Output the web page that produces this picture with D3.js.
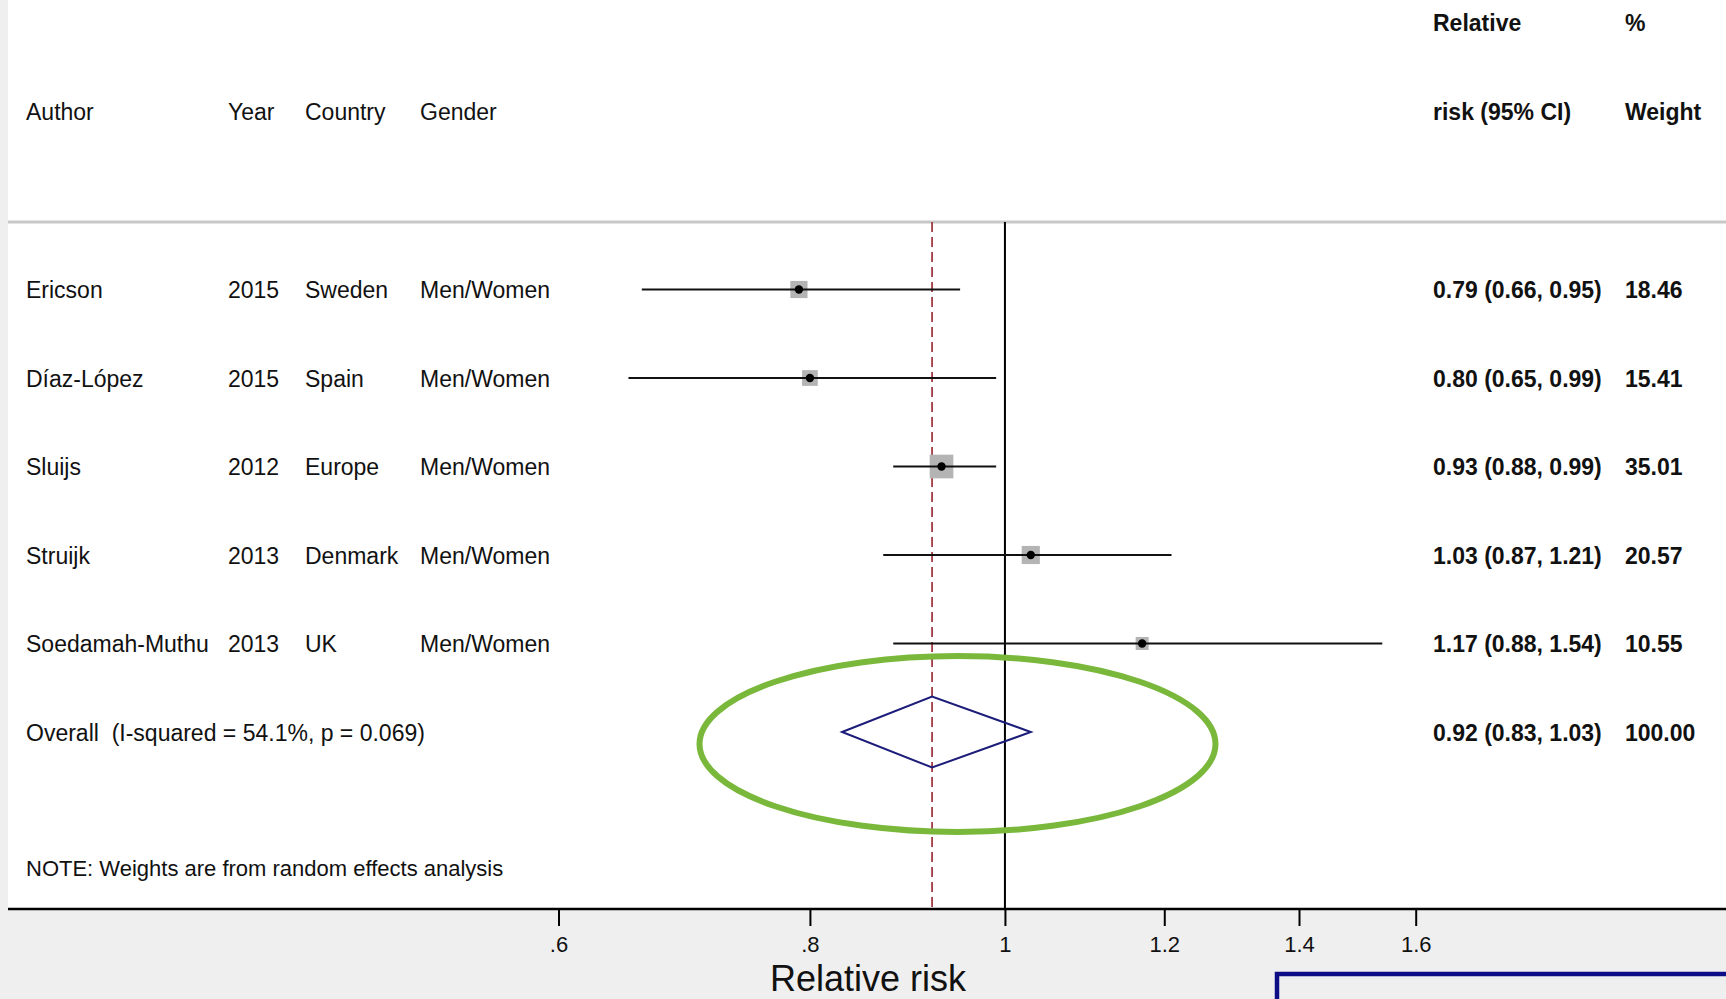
<!DOCTYPE html>
<html>
<head>
<meta charset="utf-8">
<script src="https://cdn.jsdelivr.net/npm/d3@7"></script>
<style>
  html, body { margin: 0; padding: 0; background: #efefef; }
  svg { display: block; }
  text { font-family: "Liberation Sans", Arial, sans-serif; fill: #111; white-space: pre; }
</style>
</head>
<body>
<svg id="chart" width="1726" height="999"></svg>
<script>
// Studies in the meta-analysis
const authors   = ["Ericson", "Díaz-López", "Sluijs", "Struijk", "Soedamah-Muthu"];
const years     = ["2015", "2015", "2012", "2013", "2013"];
const countries = ["Sweden", "Spain", "Europe", "Denmark", "UK"];
const genders   = ["Men/Women", "Men/Women", "Men/Women", "Men/Women", "Men/Women"];
const rrEst     = [0.79, 0.80, 0.93, 1.03, 1.17];
const rrLow     = [0.66, 0.65, 0.88, 0.87, 0.88];
const rrHigh    = [0.95, 0.99, 0.99, 1.21, 1.54];
const weights   = [18.46, 15.41, 35.01, 20.57, 10.55];

// Pooled (random effects) estimate
const overallEst    = 0.92;
const overallLow    = 0.83;
const overallHigh   = 1.03;
const overallWeight = 100.00;
const overallLabel  = "Overall  (I-squared = 54.1%, p = 0.069)";
const noteText      = "NOTE: Weights are from random effects analysis";

// Axis
const xTickValues = [0.6, 0.8, 1, 1.2, 1.4, 1.6];
const xTickLabels = [".6", ".8", "1", "1.2", "1.4", "1.6"];
const xTitle      = "Relative risk";

const svg = d3.select("#chart");
const W = 1726, H = 999;

const plotTop = 222, axisY = 909, leftEdge = 8;

// Panels: white plotting region above the axis, grey margin below
svg.append("rect").attr("x", 0).attr("y", 0).attr("width", W).attr("height", H).attr("fill", "#efefef");
svg.append("rect").attr("x", leftEdge).attr("y", 0).attr("width", W - leftEdge).attr("height", axisY).attr("fill", "#ffffff");

const x = d3.scaleLog().domain([0.6, 1.6]).range([558.5, 1415.7]);

const rowKeys = d3.range(authors.length + 1);
const y = d3.scalePoint().domain(rowKeys).range([289.5, 732]);

const wSize = d3.scaleSqrt().domain([0, 100]).range([0, 40]);

const fmt2 = d3.format(".2f");

// Header separator
svg.append("line")
  .attr("x1", leftEdge).attr("x2", W)
  .attr("y1", plotTop).attr("y2", plotTop)
  .attr("stroke", "#c8c8c8").attr("stroke-width", 3);

// Column headers
const fs = 23;
const colX = { author: 26, year: 228, country: 305, gender: 420, rr: 1433, w: 1625 };
const headerY = 120;
[["Author", colX.author], ["Year", colX.year], ["Country", colX.country], ["Gender", colX.gender]]
  .forEach(([t, cx]) => {
    svg.append("text").attr("x", cx).attr("y", headerY).attr("font-size", fs).text(t);
  });
svg.append("text").attr("x", colX.rr).attr("y", 31).attr("font-size", fs).attr("font-weight", 700).text("Relative");
svg.append("text").attr("x", colX.rr).attr("y", headerY).attr("font-size", fs).attr("font-weight", 700).text("risk (95% CI)");
svg.append("text").attr("x", colX.w).attr("y", 31).attr("font-size", fs).attr("font-weight", 700).text("%");
svg.append("text").attr("x", colX.w).attr("y", headerY).attr("font-size", fs).attr("font-weight", 700).text("Weight");

// Reference line at no effect and dashed line at the pooled estimate
svg.append("line")
  .attr("x1", x(1)).attr("x2", x(1))
  .attr("y1", plotTop).attr("y2", axisY)
  .attr("stroke", "#000").attr("stroke-width", 2);
svg.append("line")
  .attr("x1", x(overallEst)).attr("x2", x(overallEst))
  .attr("y1", plotTop).attr("y2", axisY)
  .attr("stroke", "#9c2f3a").attr("stroke-width", 1.7)
  .attr("stroke-dasharray", "10,5");

// Study rows
const studies = authors.map((a, i) => ({
  i, author: a, year: years[i], country: countries[i], gender: genders[i],
  est: rrEst[i], lo: rrLow[i], hi: rrHigh[i], w: weights[i]
}));

const rows = svg.append("g").selectAll("g").data(studies).join("g");

rows.append("rect")
  .attr("x", d => x(d.est) - wSize(d.w) / 2)
  .attr("y", d => y(d.i) - wSize(d.w) / 2)
  .attr("width", d => wSize(d.w))
  .attr("height", d => wSize(d.w))
  .attr("fill", "#b4b4b4");

rows.append("line")
  .attr("x1", d => x(d.lo)).attr("x2", d => x(d.hi))
  .attr("y1", d => y(d.i)).attr("y2", d => y(d.i))
  .attr("stroke", "#111").attr("stroke-width", 2.2);

rows.append("circle")
  .attr("cx", d => x(d.est)).attr("cy", d => y(d.i))
  .attr("r", 4.2).attr("fill", "#000");

const textRow = (sel, key, cx, weight) =>
  sel.append("text")
    .attr("x", cx).attr("y", d => y(d.i) + 8.5)
    .attr("font-size", fs)
    .attr("font-weight", weight)
    .text(key);

textRow(rows, d => d.author, colX.author, 400);
textRow(rows, d => d.year, colX.year, 400);
textRow(rows, d => d.country, colX.country, 400);
textRow(rows, d => d.gender, colX.gender, 400);
textRow(rows, d => `${fmt2(d.est)} (${fmt2(d.lo)}, ${fmt2(d.hi)})`, colX.rr, 700);
textRow(rows, d => fmt2(d.w), colX.w, 700);

// Pooled estimate diamond
const oy = y(authors.length);
const halfH = 35.5;
svg.append("path")
  .attr("d", d3.line()([
    [x(overallLow), oy], [x(overallEst), oy - halfH],
    [x(overallHigh), oy], [x(overallEst), oy + halfH]
  ]) + "Z")
  .attr("fill", "none").attr("stroke", "#1c1c7a").attr("stroke-width", 2);

svg.append("text").attr("x", colX.author).attr("y", oy + 8.5).attr("font-size", fs).text(overallLabel);
svg.append("text").attr("x", colX.rr).attr("y", oy + 8.5).attr("font-size", fs).attr("font-weight", 700)
  .text(`${fmt2(overallEst)} (${fmt2(overallLow)}, ${fmt2(overallHigh)})`);
svg.append("text").attr("x", colX.w).attr("y", oy + 8.5).attr("font-size", fs).attr("font-weight", 700)
  .text(fmt2(overallWeight));

// Note
svg.append("text").attr("x", colX.author).attr("y", 876).attr("font-size", fs - 1).text(noteText);

// X axis
const axis = d3.axisBottom(x)
  .tickValues(xTickValues)
  .tickFormat((d, i) => xTickLabels[i])
  .tickSize(17)
  .tickPadding(10);

const gAxis = svg.append("g").attr("transform", `translate(0,${axisY})`).call(axis);
gAxis.select(".domain").remove();
gAxis.selectAll(".tick line").attr("stroke", "#000").attr("stroke-width", 2);
gAxis.selectAll(".tick text")
  .attr("font-size", 22).attr("fill", "#111")
  .attr("font-family", "Liberation Sans, Arial, sans-serif");

svg.append("line")
  .attr("x1", leftEdge).attr("x2", W)
  .attr("y1", axisY).attr("y2", axisY)
  .attr("stroke", "#000").attr("stroke-width", 2.5);

svg.append("text")
  .attr("x", 868).attr("y", 991)
  .attr("text-anchor", "middle")
  .attr("font-size", 36)
  .text(xTitle);

// Highlight around the pooled estimate
svg.append("ellipse")
  .attr("cx", 957.5).attr("cy", 744)
  .attr("rx", 258).attr("ry", 88)
  .attr("fill", "none").attr("stroke", "#79b83b").attr("stroke-width", 6);

// Framed box at the lower right
svg.append("rect")
  .attr("x", 1277).attr("y", 974)
  .attr("width", 470).attr("height", 60)
  .attr("fill", "none").attr("stroke", "#0d0d86").attr("stroke-width", 4.5);
</script>
</body>
</html>
